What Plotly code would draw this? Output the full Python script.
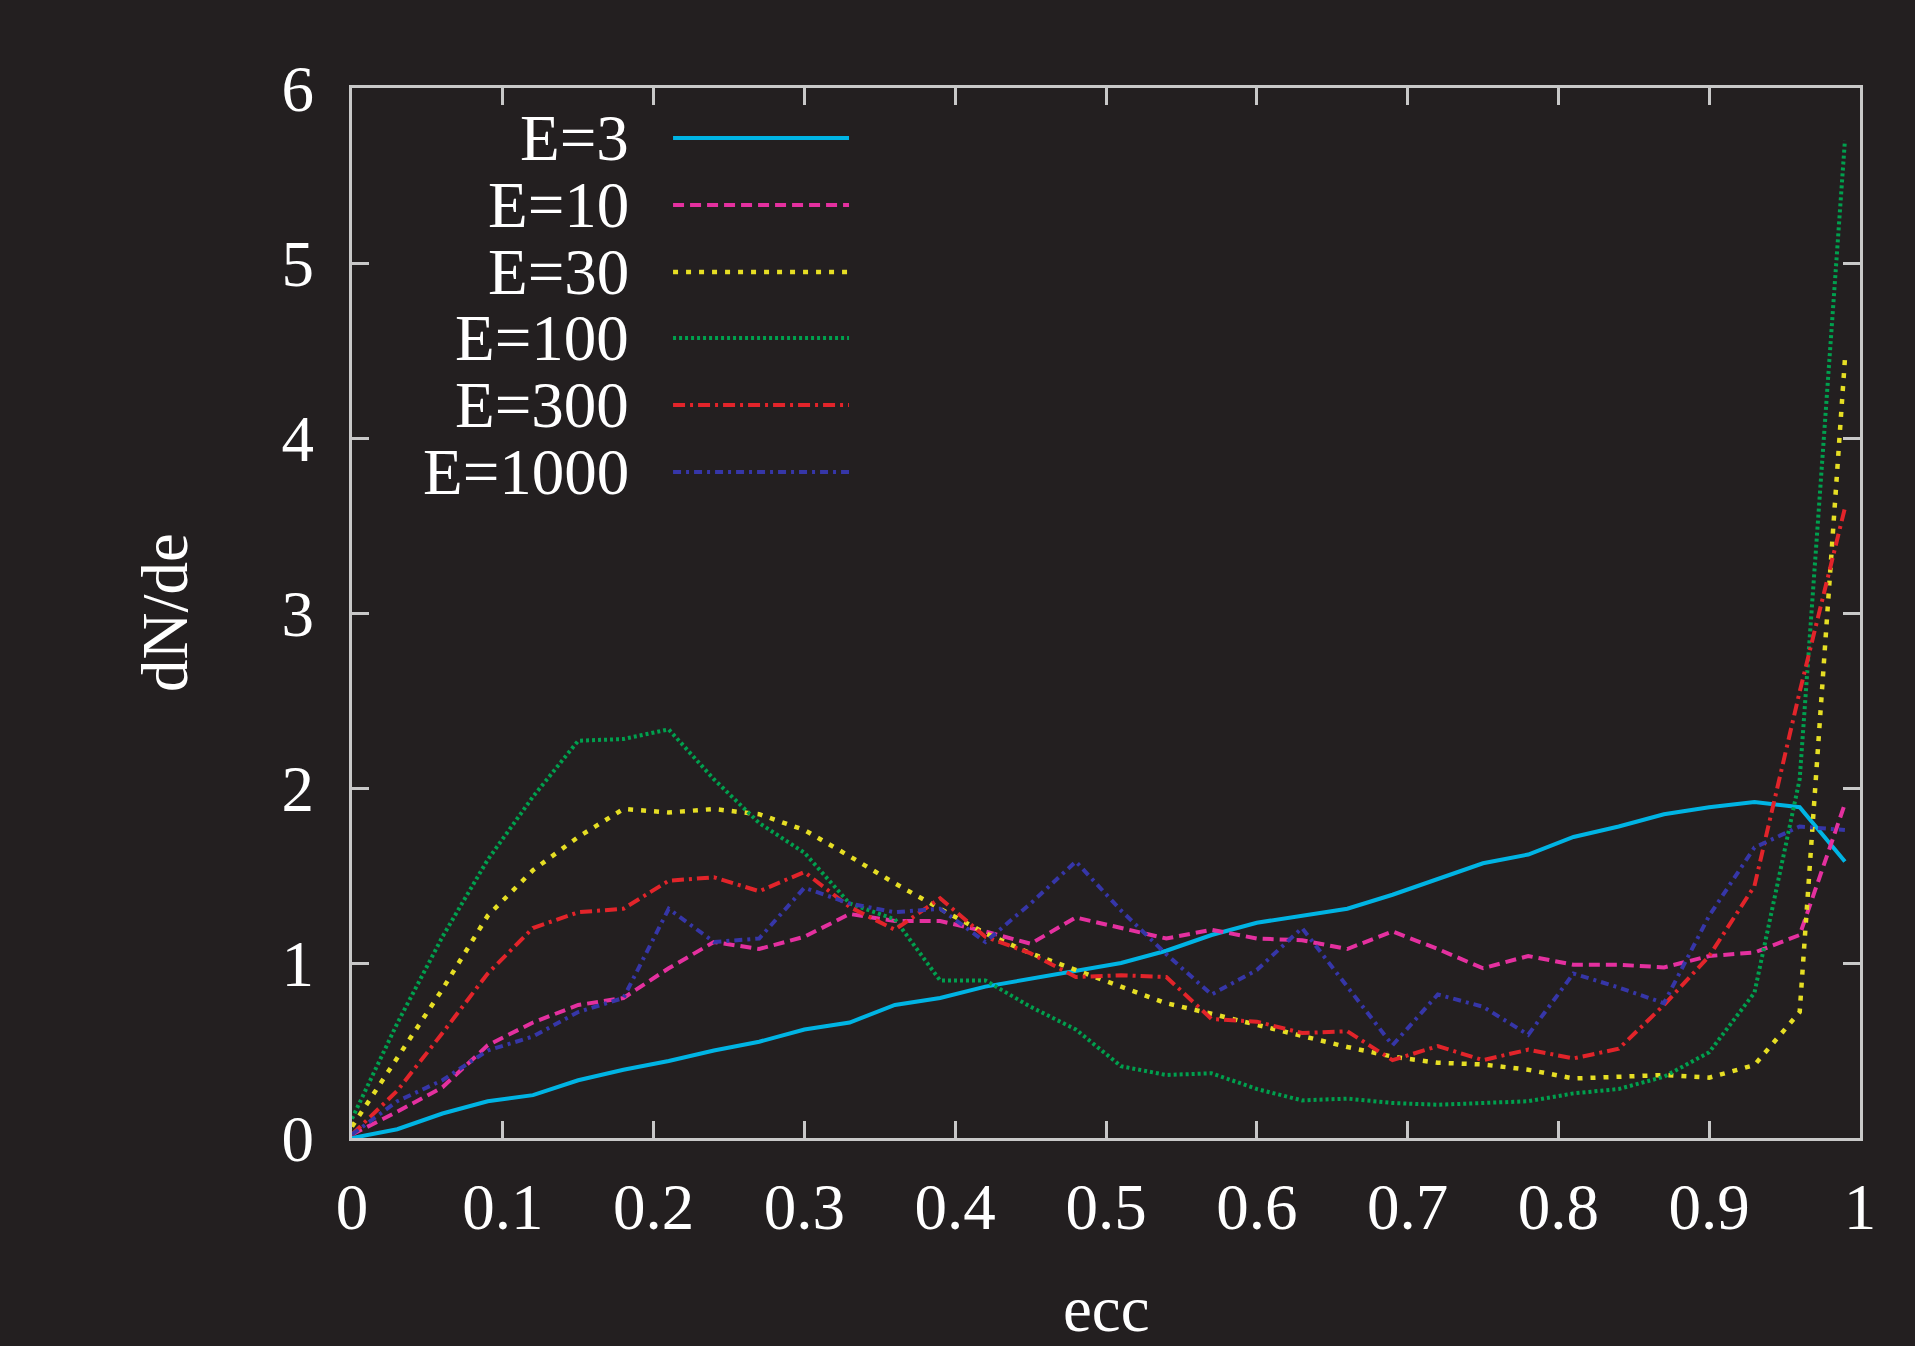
import plotly.graph_objects as go

ecc = [round(0.03 * i, 2) for i in range(34)]

e3 = [0.0, 0.05, 0.14, 0.21, 0.245, 0.33, 0.39, 0.44, 0.50, 0.55, 0.62, 0.66, 0.76, 0.80,
      0.865, 0.91, 0.96, 1.00, 1.07, 1.16, 1.23, 1.27, 1.31, 1.39, 1.48, 1.57, 1.62, 1.72,
      1.78, 1.85, 1.89, 1.92, 1.89, 1.58]
e10 = [0.02, 0.15, 0.29, 0.53, 0.66, 0.76, 0.80, 0.97, 1.12, 1.08, 1.15, 1.28, 1.24, 1.24,
       1.18, 1.11, 1.26, 1.20, 1.14, 1.19, 1.14, 1.13, 1.08, 1.18, 1.08, 0.97, 1.04, 0.99,
       0.99, 0.975, 1.04, 1.06, 1.16, 1.91]
e30 = [0.065, 0.46, 0.85, 1.27, 1.53, 1.72, 1.88, 1.86, 1.88, 1.85, 1.76, 1.61, 1.455, 1.31,
       1.17, 1.055, 0.96, 0.865, 0.77, 0.71, 0.645, 0.58, 0.52, 0.465, 0.43, 0.42, 0.39, 0.34,
       0.35, 0.36, 0.345, 0.417, 0.72, 4.45]
e100 = [0.11, 0.655, 1.15, 1.59, 1.95, 2.27, 2.28, 2.335, 2.05, 1.80, 1.63, 1.34, 1.25, 0.90,
        0.90, 0.75, 0.62, 0.41, 0.36, 0.37, 0.28, 0.215, 0.225, 0.20, 0.19, 0.20, 0.21, 0.255,
        0.28, 0.35, 0.49, 0.83, 2.05, 5.70]
e300 = [0.02, 0.27, 0.60, 0.94, 1.20, 1.29, 1.31, 1.47, 1.49, 1.41, 1.52, 1.32, 1.19, 1.37,
        1.15, 1.055, 0.92, 0.93, 0.92, 0.68, 0.665, 0.60, 0.61, 0.445, 0.525, 0.445, 0.505, 0.455,
        0.51, 0.76, 1.04, 1.44, 2.55, 3.60]
e1000 = [0.02, 0.21, 0.33, 0.50, 0.58, 0.72, 0.80, 1.31, 1.12, 1.14, 1.43, 1.34, 1.29, 1.31,
         1.12, 1.34, 1.58, 1.30, 1.05, 0.82, 0.96, 1.20, 0.865, 0.53, 0.82, 0.75, 0.59, 0.94,
         0.86, 0.77, 1.27, 1.66, 1.78, 1.76]

labels = ["E=3", "E=10", "E=30", "E=100", "E=300", "E=1000"]
series = [e3, e10, e30, e100, e300, e1000]
colors = ["#00b4e4", "#e4309f", "#e6de24", "#00a04e", "#e2242a", "#3636a8"]
dashes = ["solid", "11px,6px", "5px,8px", "3px,3px", "12px,5px,3px,5px", "8px,5px,3px,5px"]
widths = [4, 4, 4.5, 4, 4, 4]

xticks = [round(0.1 * i, 1) for i in range(11)]
xticklabels = ["0", "0.1", "0.2", "0.3", "0.4", "0.5", "0.6", "0.7", "0.8", "0.9", "1"]
yticks = [0, 1, 2, 3, 4, 5, 6]

BG = "#231f20"
AX = "#c8c8c8"
FONT = "Liberation Serif"
FS = 65

fig = go.Figure()
for name, ys, c, d, w in zip(labels, series, colors, dashes, widths):
    fig.add_trace(go.Scatter(x=ecc, y=ys, mode="lines", name=name,
                             line=dict(color=c, dash=d, width=w), showlegend=False))

# manual gnuplot-style key (text to the left of the sample)
row_y = [0.9524, 0.8886, 0.8248, 0.7619, 0.6981, 0.6343]
for name, c, d, w, yy in zip(labels, colors, dashes, widths, row_y):
    fig.add_annotation(x=0.1850, y=yy, xref="paper", yref="paper", text=name,
                       showarrow=False, xanchor="right", yanchor="middle",
                       font=dict(family=FONT, size=FS, color="#ffffff"))
    fig.add_shape(type="line", xref="paper", yref="paper", x0=0.2129, x1=0.3296,
                  y0=yy, y1=yy, line=dict(color=c, dash=d, width=w))

fig.add_annotation(x=-0.124, y=0.5, xref="paper", yref="paper", text="dN/de",
                   textangle=-90, showarrow=False, xanchor="center", yanchor="middle",
                   font=dict(family=FONT, size=FS, color="#ffffff"))
fig.add_annotation(x=0.5, y=-0.163, xref="paper", yref="paper", text="ecc",
                   showarrow=False, xanchor="center", yanchor="middle",
                   font=dict(family=FONT, size=FS, color="#ffffff"))

axis_common = dict(showgrid=False, zeroline=False, showline=True, linecolor=AX,
                   linewidth=3, mirror="ticks", ticks="inside", ticklen=17,
                   tickwidth=3, tickcolor=AX,
                   tickfont=dict(family=FONT, size=FS, color="#ffffff"))

fig.update_xaxes(range=[0, 1], tickvals=xticks, ticktext=xticklabels,
                 ticklabelstandoff=10, **axis_common)
fig.update_yaxes(range=[0, 6], tickvals=yticks, ticklabelstandoff=22, **axis_common)

fig.update_layout(width=1915, height=1346, paper_bgcolor=BG, plot_bgcolor=BG,
                  margin=dict(l=352, r=55, t=88, b=208, autoexpand=False))

fig.write_html("out.html")
